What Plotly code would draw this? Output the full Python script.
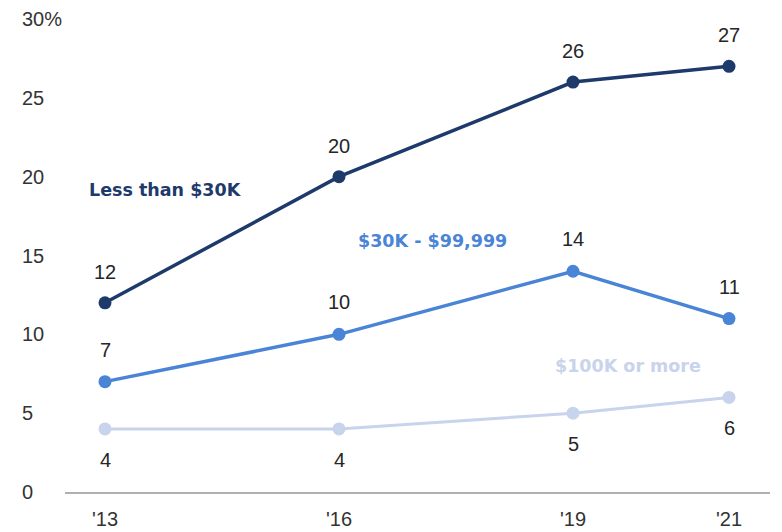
import plotly.graph_objects as go

years = [2013, 2016, 2019, 2021]
year_labels = ["'13", "'16", "'19", "'21"]
low = [12, 20, 26, 27]
mid = [7, 10, 14, 11]
high = [4, 4, 5, 6]
series_names = ["Less than $30K", "$30K - $99,999", "$100K or more"]
y_ticks = [0, 5, 10, 15, 20, 25, 30]
y_tick_text = ["0", "5", "10", "15", "20", "25", "30%"]

colors = ["#1e3a6b", "#4a84d6", "#c8d3ec"]
W, H = 782, 532
# page body has an 8px offset, margins compensate
L, R, T, B = 57, 20, 11, 48

fig = go.Figure()
for vals, c, w in zip([high, mid, low], colors[::-1], [3, 3.5, 3.5]):
    fig.add_trace(go.Scatter(x=years, y=vals, mode="lines+markers",
                             line=dict(color=c, width=w),
                             marker=dict(color=c, size=13),
                             cliponaxis=False, showlegend=False, hoverinfo="skip"))

num_font = dict(family="Liberation Sans, Arial", size=20, color="#262626")
for vals, shift in [(low, 31), (mid, 32), (high, -31)]:
    for x, v in zip(years, vals):
        fig.add_annotation(x=x, y=v, text=str(v), showarrow=False, yshift=shift,
                           font=num_font, xanchor="center", yanchor="middle")

# series labels
label_pos = [(2012.77, 19.15), (2016.22, 15.9), (2018.74, 8.0)]
for name, (lx, ly), c in zip(series_names, label_pos, colors):
    fig.add_annotation(x=lx, y=ly, text="<b>" + name + "</b>", showarrow=False,
                       xanchor="left", yanchor="middle",
                       font=dict(family="DejaVu Sans", size=17.5, color=c))

# y tick labels
for v, t in zip(y_ticks, y_tick_text):
    fig.add_annotation(xref="paper", x=(12 - L) / (W - L - R), y=v, text=t,
                       showarrow=False, xanchor="left", yanchor="middle",
                       font=dict(family="Liberation Sans, Arial", size=20, color="#333333"))

x0 = 2013 - 40 / 78
x1 = x0 + (W - L - R) / 78
fig.update_xaxes(range=[x0, x1], tickvals=years, ticktext=year_labels, automargin=False,
                 showgrid=False, zeroline=False, showline=True, linecolor="#b0b0b0",
                 linewidth=1.5, ticks="", ticklabelstandoff=8,
                 tickfont=dict(family="Liberation Sans, Arial", size=20, color="#333333"))
fig.update_yaxes(range=[0, 30], showgrid=False, zeroline=False, showticklabels=False,
                 tickvals=y_ticks, automargin=False)
fig.update_layout(width=W, height=H, margin=dict(l=L, r=R, t=T, b=B),
                  plot_bgcolor="white", paper_bgcolor="white")
fig.write_html("out.html")
